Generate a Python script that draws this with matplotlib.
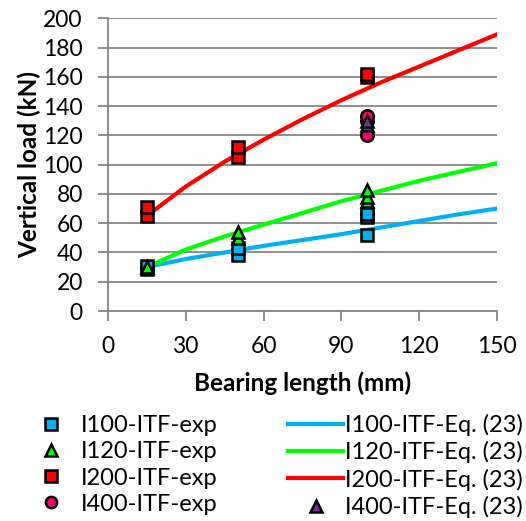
"""Vertical load vs bearing length: test results and Eq. (23)"""

import matplotlib
matplotlib.use("Agg")
import matplotlib.pyplot as plt

plt.rcParams["font.family"] = ["Lato", "DejaVu Sans"]

# experimental points (bearing length mm, load kN)
i100_x = [15, 15, 50, 50, 100, 100, 100]
i100_y = [29, 31, 38, 43, 52, 64, 66]
i120_x = [15, 50, 50, 100, 100, 100]
i120_y = [30, 50, 54, 75, 78, 83]
i200_x = [15, 15, 50, 50, 100, 100]
i200_y = [65, 71, 105, 112, 160, 162]
i400_x = [100, 100, 100]
i400_y = [120, 130, 133]

# Eq. (23) curves
eq_x = [15, 30, 45, 60, 75, 90, 105, 120, 135, 150]
i100_eq = [30, 35.5, 40, 44.5, 48.5, 52.5, 57, 61.5, 66, 70]
i120_eq = [30, 42, 51, 59, 67, 75, 82, 89, 95, 101]
i200_eq = [65, 85, 102, 117, 131, 144, 156, 167, 178, 189]
i400_eq_x = [100, 100]
i400_eq_y = [127, 130]

x_ticks = [0, 30, 60, 90, 120, 150]
y_ticks = list(range(0, 201, 20))

fig = plt.figure(figsize=(5.26, 5.21), dpi=100)
ax = fig.add_axes([0.205, 0.403, 0.74, 0.562])

grid_col = "#868686"
mk = dict(linestyle="none", markeredgecolor="black", markeredgewidth=1.8, markersize=9)

ax.plot(eq_x, i100_eq, color="#00B0F0", lw=3, label="I100-ITF-Eq. (23)", zorder=2)
ax.plot(eq_x, i120_eq, color="#00FF00", lw=3, label="I120-ITF-Eq. (23)", zorder=2)
ax.plot(eq_x, i200_eq, color="#FF0000", lw=3, label="I200-ITF-Eq. (23)", zorder=2)

h1, = ax.plot(i100_x, i100_y, marker="s", color="#00B0F0", label="I100-ITF-exp", zorder=3, **mk)
h2, = ax.plot(i120_x, i120_y, marker="^", color="#00FF00", label="I120-ITF-exp", zorder=3, **mk)
h3, = ax.plot(i200_x, i200_y, marker="s", color="#FF0000", label="I200-ITF-exp", zorder=3, **mk)
h4, = ax.plot(i400_x, i400_y, marker="o", color="#FF0066", label="I400-ITF-exp", zorder=3, **mk)
h8, = ax.plot(i400_eq_x, i400_eq_y, marker="^", color="#7030A0", label="I400-ITF-Eq. (23)", zorder=4, **mk)

ax.set_xlim(0, 150)
ax.set_ylim(0, 200)
ax.set_xticks(x_ticks)
ax.set_yticks(y_ticks)
ax.yaxis.grid(True, color=grid_col, lw=1.3)
ax.set_axisbelow(True)
for s in ["top", "right"]:
    ax.spines[s].set_visible(False)
for s in ["left", "bottom"]:
    ax.spines[s].set_color(grid_col)
    ax.spines[s].set_linewidth(1.3)
ax.tick_params(direction="out", length=7, width=1.3, color=grid_col, labelsize=16.5)
ax.tick_params(axis="x", pad=11)
ax.tick_params(axis="y", pad=11)

ax.set_xlabel("Bearing length (mm)", fontsize=17.5, fontweight="bold", labelpad=10)
ax.set_ylabel("Vertical load (kN)", fontsize=17.5, fontweight="bold", labelpad=1)

lines = ax.get_lines()
handles = [h1, h2, h3, h4, lines[0], lines[1], lines[2], h8]
fig.legend(handles=handles, labels=[h.get_label() for h in handles],
           loc="lower center", bbox_to_anchor=(0.52, -0.035), ncol=2, frameon=False,
           fontsize=17, handlelength=2.3, handletextpad=0.1, columnspacing=3.0,
           labelspacing=0.22, markerscale=0.9)

fig.savefig("out.png", dpi=100)
